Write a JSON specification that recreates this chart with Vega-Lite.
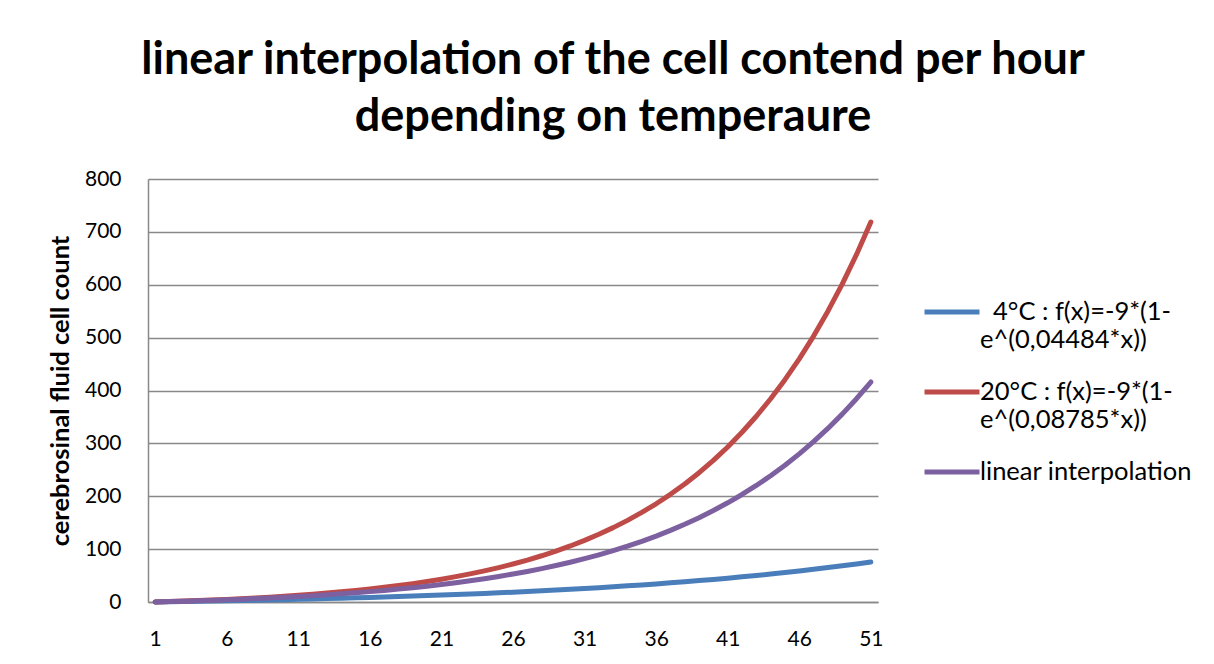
{
  "$schema": "https://vega.github.io/schema/vega-lite/v6.json",
  "width": 730,
  "height": 423,
  "autosize": {"type": "none"},
  "padding": {"left": 148, "top": 179, "right": 336, "bottom": 62},
  "background": "white",
  "title": {
    "text": ["linear interpolation of the cell contend per hour", "depending on temperaure"],
    "font": "Lato",
    "fontSize": 45,
    "fontWeight": "bold",
    "color": "black",
    "lineHeight": 57,
    "anchor": "middle",
    "frame": "group",
    "dx": 100,
    "offset": 28
  },
  "config": {
    "view": {"stroke": null},
    "axis": {
      "labelFont": "Lato",
      "labelFontSize": 21,
      "labelColor": "black",
      "titleFont": "Lato",
      "titleColor": "black"
    }
  },
  "data": {
    "values": [
      {"x": 1, "t4": 0, "t20": 0, "tlin": 0},
      {"x": 2, "t4": 0.41, "t20": 0.83, "tlin": 0.72},
      {"x": 3, "t4": 0.84, "t20": 1.73, "tlin": 1.5},
      {"x": 4, "t4": 1.3, "t20": 2.71, "tlin": 2.34},
      {"x": 5, "t4": 1.77, "t20": 3.79, "tlin": 3.25},
      {"x": 6, "t4": 2.26, "t20": 4.96, "tlin": 4.23},
      {"x": 7, "t4": 2.78, "t20": 6.25, "tlin": 5.29},
      {"x": 8, "t4": 3.32, "t20": 7.65, "tlin": 6.44},
      {"x": 9, "t4": 3.88, "t20": 9.17, "tlin": 7.68},
      {"x": 10, "t4": 4.47, "t20": 10.84, "tlin": 9.01},
      {"x": 11, "t4": 5.09, "t20": 12.67, "tlin": 10.46},
      {"x": 12, "t4": 5.74, "t20": 14.66, "tlin": 12.02},
      {"x": 13, "t4": 6.41, "t20": 16.83, "tlin": 13.7},
      {"x": 14, "t4": 7.12, "t20": 19.2, "tlin": 15.52},
      {"x": 15, "t4": 7.86, "t20": 21.79, "tlin": 17.49},
      {"x": 16, "t4": 8.63, "t20": 24.61, "tlin": 19.61},
      {"x": 17, "t4": 9.44, "t20": 27.7, "tlin": 21.9},
      {"x": 18, "t4": 10.29, "t20": 31.07, "tlin": 24.38},
      {"x": 19, "t4": 11.17, "t20": 34.75, "tlin": 27.05},
      {"x": 20, "t4": 12.1, "t20": 38.77, "tlin": 29.94},
      {"x": 21, "t4": 13.07, "t20": 43.15, "tlin": 33.07},
      {"x": 22, "t4": 14.08, "t20": 47.94, "tlin": 36.44},
      {"x": 23, "t4": 15.14, "t20": 53.17, "tlin": 40.08},
      {"x": 24, "t4": 16.24, "t20": 58.88, "tlin": 44.01},
      {"x": 25, "t4": 17.4, "t20": 65.11, "tlin": 48.26},
      {"x": 26, "t4": 18.61, "t20": 71.91, "tlin": 52.85},
      {"x": 27, "t4": 19.88, "t20": 79.34, "tlin": 57.81},
      {"x": 28, "t4": 21.2, "t20": 87.46, "tlin": 63.16},
      {"x": 29, "t4": 22.59, "t20": 96.31, "tlin": 68.95},
      {"x": 30, "t4": 24.03, "t20": 105.98, "tlin": 75.19},
      {"x": 31, "t4": 25.55, "t20": 116.54, "tlin": 81.94},
      {"x": 32, "t4": 27.13, "t20": 128.06, "tlin": 89.23},
      {"x": 33, "t4": 28.79, "t20": 140.65, "tlin": 97.1},
      {"x": 34, "t4": 30.52, "t20": 154.39, "tlin": 105.61},
      {"x": 35, "t4": 32.34, "t20": 169.39, "tlin": 114.79},
      {"x": 36, "t4": 34.23, "t20": 185.77, "tlin": 124.72},
      {"x": 37, "t4": 36.22, "t20": 203.65, "tlin": 135.43},
      {"x": 38, "t4": 38.29, "t20": 223.18, "tlin": 147.01},
      {"x": 39, "t4": 40.46, "t20": 244.5, "tlin": 159.52},
      {"x": 40, "t4": 42.73, "t20": 267.77, "tlin": 173.02},
      {"x": 41, "t4": 45.1, "t20": 293.24, "tlin": 187.61},
      {"x": 42, "t4": 47.58, "t20": 320.98, "tlin": 203.37},
      {"x": 43, "t4": 50.17, "t20": 351.28, "tlin": 220.39},
      {"x": 44, "t4": 52.89, "t20": 384.37, "tlin": 238.78},
      {"x": 45, "t4": 55.73, "t20": 420.49, "tlin": 258.64},
      {"x": 46, "t4": 58.69, "t20": 459.92, "tlin": 280.09},
      {"x": 47, "t4": 61.8, "t20": 502.98, "tlin": 303.26},
      {"x": 48, "t4": 65.05, "t20": 549.99, "tlin": 328.28},
      {"x": 49, "t4": 68.44, "t20": 601.32, "tlin": 355.32},
      {"x": 50, "t4": 71.99, "t20": 657.36, "tlin": 384.52},
      {"x": 51, "t4": 75.71, "t20": 718.58, "tlin": 416.06}
    ]
  },
  "transform": [
    {"fold": ["t4", "t20", "tlin"], "as": ["series", "count"]}
  ],
  "mark": {"type": "line", "strokeWidth": 5, "strokeCap": "round", "strokeJoin": "round"},
  "encoding": {
    "x": {
      "field": "x",
      "type": "quantitative",
      "scale": {"domain": [0.5, 51.5], "nice": false, "zero": false},
      "axis": {
        "title": null,
        "values": [1, 6, 11, 16, 21, 26, 31, 36, 41, 46, 51],
        "grid": false,
        "ticks": false,
        "tickSize": 0,
        "labelPadding": 26,
        "labelBaseline": "top",
        "domainColor": "#898989",
        "domainWidth": 1.5,
        "labelFlush": false
      }
    },
    "y": {
      "field": "count",
      "type": "quantitative",
      "scale": {"domain": [0, 800], "nice": false},
      "axis": {
        "title": "cerebrosinal fluid cell count",
        "titleFontSize": 25.5,
        "titleFontWeight": "bold",
        "titleAngle": -90,
        "titleX": -88,
        "titleBaseline": "middle",
        "values": [0, 100, 200, 300, 400, 500, 600, 700, 800],
        "grid": true,
        "gridColor": "#898989",
        "gridWidth": 1.5,
        "ticks": false,
        "tickSize": 0,
        "labelPadding": 27,
        "domainColor": "#898989",
        "domainWidth": 1.5,
        "labelFlush": false
      }
    },
    "color": {
      "field": "series",
      "type": "nominal",
      "sort": ["t4", "t20", "tlin"],
      "scale": {"domain": ["t4", "t20", "tlin"], "range": ["#4a7ebb", "#be4b48", "#7d60a0"]},
      "legend": {
        "title": null,
        "orient": "none",
        "legendX": 774,
        "legendY": 103,
        "padding": 0,
        "symbolType": "stroke",
        "symbolSize": 3025,
        "symbolStrokeWidth": 5,
        "labelFont": "Lato",
        "labelFontSize": 25.5,
        "labelColor": "black",
        "labelOffset": -2,
        "labelLimit": 400,
        "rowPadding": 8,
        "labelExpr": "datum.value == 't4' ? ['\u200b\u00a0\u00a04°C : f(x)=-9*(1-', 'e^(0,04484*x))'] : datum.value == 't20' ? ['20°C : f(x)=-9*(1-', 'e^(0,08785*x))'] : 'linear interpolation'",
        "encode": {"labels": {"update": {"lineHeight": {"value": 28}}}}
      }
    }
  }
}
